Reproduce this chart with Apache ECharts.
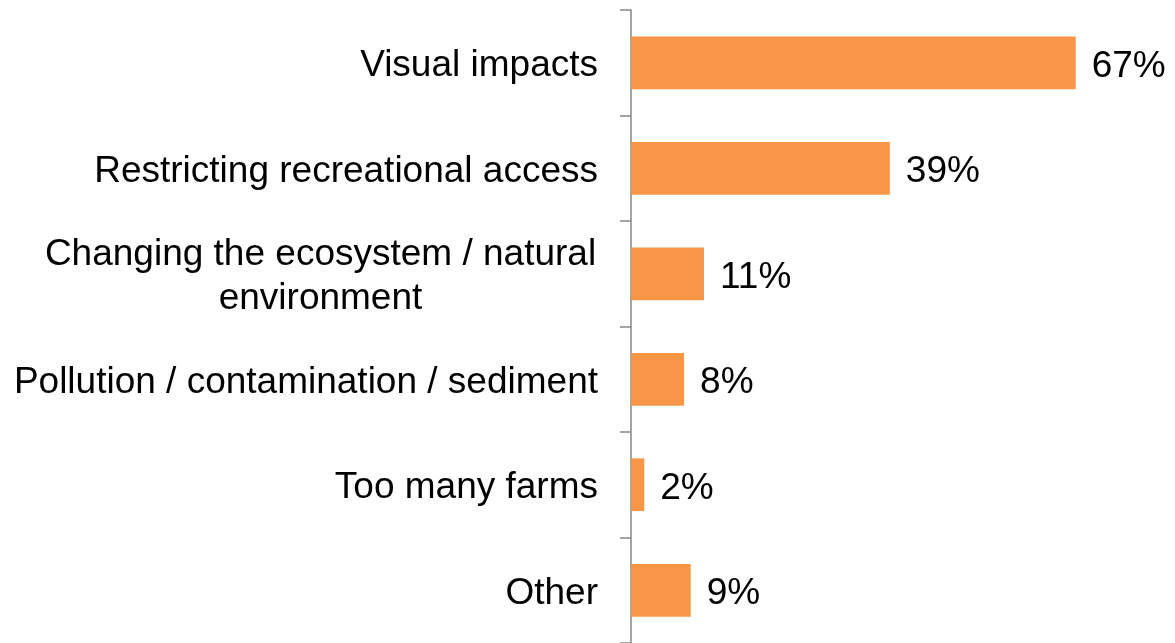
<!DOCTYPE html>
<html>
<head>
<meta charset="utf-8">
<script src="https://cdn.jsdelivr.net/npm/echarts@6/dist/echarts.min.js"></script>
<style>
html,body{margin:0;padding:0;background:#fff;}
#chart{width:1175px;height:643px;}
</style>
</head>
<body>
<div id="chart"></div>
<script>
const categories = [
  "Visual impacts",
  "Restricting recreational access",
  "Changing the ecosystem / natural\nenvironment",
  "Pollution / contamination / sediment",
  "Too many farms",
  "Other"
];
const values = [67, 39, 11, 8, 2, 9];

const chart = echarts.init(document.getElementById('chart'), null, {renderer: 'canvas'});
const FONT = '"Liberation Sans", Arial, sans-serif';
chart.setOption({
  backgroundColor: '#ffffff',
  animation: false,
  grid: {left: 631, right: 13, top: 10, bottom: 0, containLabel: false},
  xAxis: {
    type: 'value', min: 0, max: 80, show: false
  },
  yAxis: {
    type: 'category',
    data: categories,
    inverse: true,
    axisLine: {show: true, lineStyle: {color: '#868686', width: 1.5}},
    axisTick: {show: true, length: 11, lineStyle: {color: '#868686', width: 1.5}},
    splitLine: {show: false},
    axisLabel: {
      margin: 33,
      color: '#000',
      fontFamily: FONT,
      fontSize: 37,
      lineHeight: 44,
      padding: [7, 0, 0, 0],
      formatter: function (v) {
        if (v.indexOf('\n') >= 0) {
          return v.split('\n').map(s => '{c|' + s + '}').join('\n');
        }
        return v;
      },
      rich: {
        c: {width: 555, align: 'center', color: '#000', fontFamily: FONT, fontSize: 37, lineHeight: 44}
      }
    }
  },
  series: [{
    type: 'bar',
    data: values,
    barCategoryGap: '50%',
    itemStyle: {color: '#F79646'},
    label: {
      show: true,
      position: 'right',
      distance: 16,
      offset: [0, 4],
      formatter: '{c}%',
      color: '#000',
      fontFamily: FONT,
      fontSize: 37
    }
  }]
});
</script>
</body>
</html>
